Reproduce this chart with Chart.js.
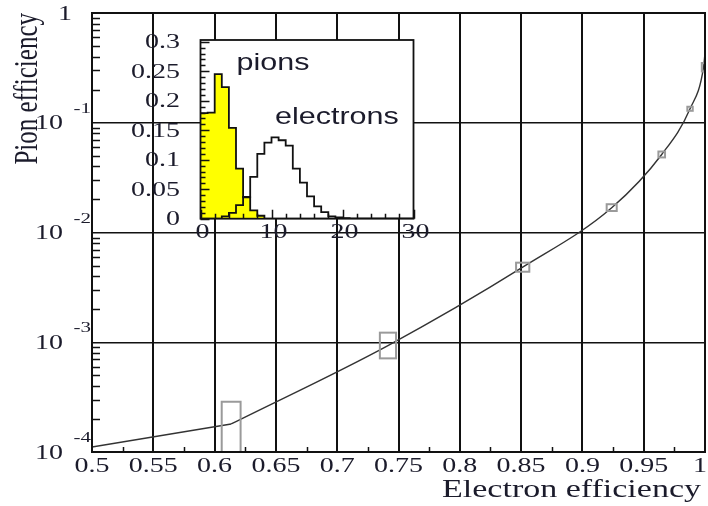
<!DOCTYPE html>
<html>
<head>
<meta charset="utf-8">
<script src="https://cdn.jsdelivr.net/npm/chart.js@4.4.0/dist/chart.umd.min.js"></script>
<style>
  body { margin: 0; background: #fff; }
  #wrap { position: relative; width: 708px; height: 506px; }
  #wrap canvas { position: absolute; left: 0; top: 0; }
</style>
</head>
<body>
<div id="wrap">
  <canvas id="main" width="708" height="506"></canvas>
  <canvas id="inset" width="708" height="506"></canvas>
</div>
<script>
// ==========================
// Main graph: pion efficiency vs electron efficiency
// ==========================
const elecEff   = [0.5, 0.6135, 0.7414, 0.8513, 0.9239, 0.9647, 0.9878, 0.9988, 1.0];
const pionEff   = [1.11e-4, 1.80e-4, 9.33e-4, 4.83e-3, 1.68e-2, 5.14e-2, 0.134, 0.32, 0.43];
const elecErr   = [0, 0.0077, 0.0066, 0.0054, 0.0041, 0.0027, 0.0022, 0.0014, 0];
const pionErrUp = [0, 1.07e-4, 2.9e-4, 4.8e-4, 1.3e-3, 3.3e-3, 5.9e-3, 0.03, 0];
const pionErrDn = [0, 1.07e-4, 2.2e-4, 4.4e-4, 1.1e-3, 3.1e-3, 5.5e-3, 0.027, 0];
const kinkIndex = 1; // straight piece before this point, smooth curve after

const xTicks      = [0.5, 0.55, 0.6, 0.65, 0.7, 0.75, 0.8, 0.85, 0.9, 0.95, 1];
const xTickLabels = ["0.5", "0.55", "0.6", "0.65", "0.7", "0.75", "0.8", "0.85", "0.9", "0.95", "1"];
const yDecades    = [1e-4, 1e-3, 1e-2, 1e-1, 1];
const yExponents  = ["-4", "-3", "-2", "-1", ""];

// ==========================
// Inset: signal distributions
// ==========================
const binWidth = 1;
const insetXMax = 30;
const pionDist     = [0.179, 0.180, 0.245, 0.223, 0.154, 0.085, 0.036, 0.014, 0.005];
const electronDist = [0, 0, 0, 0.004, 0.010, 0.023, 0.037, 0.071, 0.110, 0.129, 0.138,
                      0.133, 0.124, 0.085, 0.061, 0.038, 0.021, 0.011, 0.004, 0.002, 0.001];
const insetXTicks  = [0, 10, 20, 30];
const insetYTicks  = [0, 0.05, 0.1, 0.15, 0.2, 0.25, 0.3];
const insetYLabels = ["0", "0.05", "0.1", "0.15", "0.2", "0.25", "0.3"];

const TXT = "#1b1b2b";
const SERIF = "'Liberation Serif', 'Times New Roman', serif";
const SANS = "'Liberation Sans', Arial, sans-serif";

// text is horizontally stretched in the original picture
function drawText(ctx, str, x, y, size, family, align, sx, rot) {
    ctx.save();
    ctx.translate(x, y);
    ctx.scale(sx, 1);
    if (rot) ctx.rotate(rot);
    ctx.font = size + "px " + family;
    ctx.fillStyle = TXT;
    ctx.textAlign = align;
    ctx.textBaseline = "alphabetic";
    ctx.fillText(str, 0, 0);
    ctx.restore();
}

const mainDecor = {
    id: "mainDecor",
    afterDatasetsDraw(chart) {
        const { ctx, chartArea: a, scales: { x, y } } = chart;
        ctx.save();
        ctx.beginPath();
        ctx.rect(a.left, a.top, a.right - a.left, a.bottom - a.top);
        ctx.clip();
        ctx.strokeStyle = "#9a9a9a";
        ctx.lineWidth = 2;
        elecEff.forEach((e, i) => {
            if (!elecErr[i]) return;
            const x0 = x.getPixelForValue(e - elecErr[i]);
            const x1 = x.getPixelForValue(e + elecErr[i]);
            const lo = pionEff[i] - pionErrDn[i];
            const y0 = y.getPixelForValue(pionEff[i] + pionErrUp[i]);
            const y1 = lo > 0 ? y.getPixelForValue(lo) : a.bottom + 10;
            ctx.strokeRect(x0, y0, x1 - x0, y1 - y0);
        });
        ctx.restore();
    },
    afterDraw(chart) {
        const { ctx, chartArea: a, scales: { x, y } } = chart;
        ctx.save();
        ctx.strokeStyle = "#111";
        ctx.lineWidth = 2;
        ctx.strokeRect(a.left, a.top, a.right - a.left, a.bottom - a.top);

        // minor ticks, pointing inward
        ctx.lineWidth = 1.5;
        ctx.beginPath();
        for (let k = -4; k < 0; k++) {
            for (let m = 2; m <= 9; m++) {
                const py = Math.round(y.getPixelForValue(m * Math.pow(10, k))) + 0.5;
                ctx.moveTo(a.left, py);
                ctx.lineTo(a.left + 8, py);
            }
        }
        for (let i = 0; i < xTicks.length - 1; i++) {
            const px = Math.round(x.getPixelForValue((xTicks[i] + xTicks[i + 1]) / 2)) + 0.5;
            ctx.moveTo(px, a.bottom);
            ctx.lineTo(px, a.bottom - 5);
        }
        ctx.stroke();
        ctx.restore();

        // tick labels
        xTicks.forEach((v, i) => {
            let px = x.getPixelForValue(v);
            let align = "center";
            if (i === xTicks.length - 1) { px = 707; align = "right"; }
            drawText(ctx, xTickLabels[i], px, a.bottom + 19.5, 20, SERIF, align, 1.4);
        });
        yDecades.forEach((v, i) => {
            const py = y.getPixelForValue(v);
            if (yExponents[i] === "") {
                drawText(ctx, "1", 72, py + 6.5, 20, SERIF, "right", 1.4);
            } else {
                drawText(ctx, "10", 63, py + 6.5, 20, SERIF, "right", 1.4);
                drawText(ctx, yExponents[i], 91, py - 10, 15, SERIF, "right", 1.4);
            }
        });

        // axis titles
        drawText(ctx, "Electron efficiency", 701, 497, 25, SERIF, "right", 1.36);
        drawText(ctx, "Pion efficiency", 37, 13, 25, SERIF, "right", 1.31, -Math.PI / 2);
    }
};

const points = elecEff.map((e, i) => ({ x: e, y: pionEff[i] }));

new Chart(document.getElementById("main"), {
    type: "line",
    data: {
        datasets: [
            {
                data: points.slice(0, kinkIndex + 1),
                borderColor: "#333",
                borderWidth: 1.4,
                pointRadius: 0,
                tension: 0
            },
            {
                data: points.slice(kinkIndex),
                borderColor: "#333",
                borderWidth: 1.4,
                pointRadius: 0,
                cubicInterpolationMode: "monotone"
            }
        ]
    },
    options: {
        responsive: false,
        animation: false,
        devicePixelRatio: 1,
        layout: { autoPadding: false, padding: { left: 92, right: 3, top: 13, bottom: 54 } },
        plugins: { legend: { display: false }, tooltip: { enabled: false } },
        scales: {
            x: {
                type: "linear",
                min: 0.5,
                max: 1,
                afterBuildTicks: axis => { axis.ticks = xTicks.map(v => ({ value: v })); },
                ticks: { display: false },
                grid: { color: "#111", lineWidth: 2, drawTicks: false },
                border: { display: true, color: "#111", width: 2 }
            },
            y: {
                type: "logarithmic",
                min: 1e-4,
                max: 1,
                afterBuildTicks: axis => { axis.ticks = yDecades.map(v => ({ value: v })); },
                ticks: { display: false },
                grid: { color: "#111", lineWidth: 1.5, drawTicks: false },
                border: { display: true, color: "#111", width: 2 }
            }
        }
    },
    plugins: [mainDecor]
});

// ==========================
// Inset chart
// ==========================
function histPoints(vals) {
    const pts = vals.map((v, i) => ({ x: i * binWidth, y: v }));
    pts.push({ x: vals.length * binWidth, y: 0 });
    pts.push({ x: insetXMax, y: 0 });
    return pts;
}

const insetDecor = {
    id: "insetDecor",
    beforeDraw(chart) {
        const { ctx, chartArea: a } = chart;
        ctx.save();
        ctx.fillStyle = "#fff";
        ctx.fillRect(a.left, a.top, a.right - a.left, a.bottom - a.top);
        ctx.restore();
    },
    afterDraw(chart) {
        const { ctx, chartArea: a, scales: { x, y } } = chart;
        ctx.save();
        ctx.strokeStyle = "#111";
        ctx.lineWidth = 1.8;
        ctx.strokeRect(a.left, a.top, a.right - a.left, a.bottom - a.top);
        ctx.lineWidth = 1.5;
        ctx.beginPath();
        for (let v = 0; v <= 0.3001; v += 0.01) {
            const py = Math.round(y.getPixelForValue(v)) + 0.5;
            const major = Math.abs(v / 0.05 - Math.round(v / 0.05)) < 1e-6;
            ctx.moveTo(a.left, py);
            ctx.lineTo(a.left + (major ? 9 : 5), py);
        }
        for (let v = 0; v <= insetXMax; v += 2) {
            const px = Math.round(x.getPixelForValue(v)) + 0.5;
            ctx.moveTo(px, a.bottom);
            ctx.lineTo(px, a.bottom - (v % 10 === 0 ? 9 : 5));
        }
        ctx.stroke();
        ctx.restore();

        insetYTicks.forEach((v, i) => {
            drawText(ctx, insetYLabels[i], 180, y.getPixelForValue(v) + 6.5, 20, SERIF, "right", 1.4);
        });
        insetXTicks.forEach(v => {
            drawText(ctx, String(v), x.getPixelForValue(v) + 2, 238, 20, SERIF, "center", 1.4);
        });
        drawText(ctx, "pions", 236.5, 70, 24, SANS, "left", 1.27);
        drawText(ctx, "electrons", 275, 124, 24, SANS, "left", 1.27);
    }
};

new Chart(document.getElementById("inset"), {
    type: "line",
    data: {
        datasets: [
            {
                label: "electrons",
                data: histPoints(electronDist),
                stepped: "before",
                borderColor: "#111",
                borderWidth: 1.8,
                pointRadius: 0,
                fill: false
            },
            {
                label: "pions",
                data: histPoints(pionDist),
                stepped: "before",
                borderColor: "#111",
                borderWidth: 1.8,
                pointRadius: 0,
                backgroundColor: "#ffff00",
                fill: "origin"
            }
        ]
    },
    options: {
        responsive: false,
        animation: false,
        devicePixelRatio: 1,
        layout: { autoPadding: false, padding: { left: 200.5, right: 294.5, top: 40, bottom: 287.3 } },
        plugins: { legend: { display: false }, tooltip: { enabled: false } },
        scales: {
            x: {
                type: "linear",
                min: 0,
                max: insetXMax,
                ticks: { display: false },
                grid: { display: false, drawTicks: false },
                border: { display: false }
            },
            y: {
                type: "linear",
                min: 0,
                max: 0.303,
                ticks: { display: false },
                grid: { display: false, drawTicks: false },
                border: { display: false }
            }
        }
    },
    plugins: [insetDecor]
});
</script>
</body>
</html>
